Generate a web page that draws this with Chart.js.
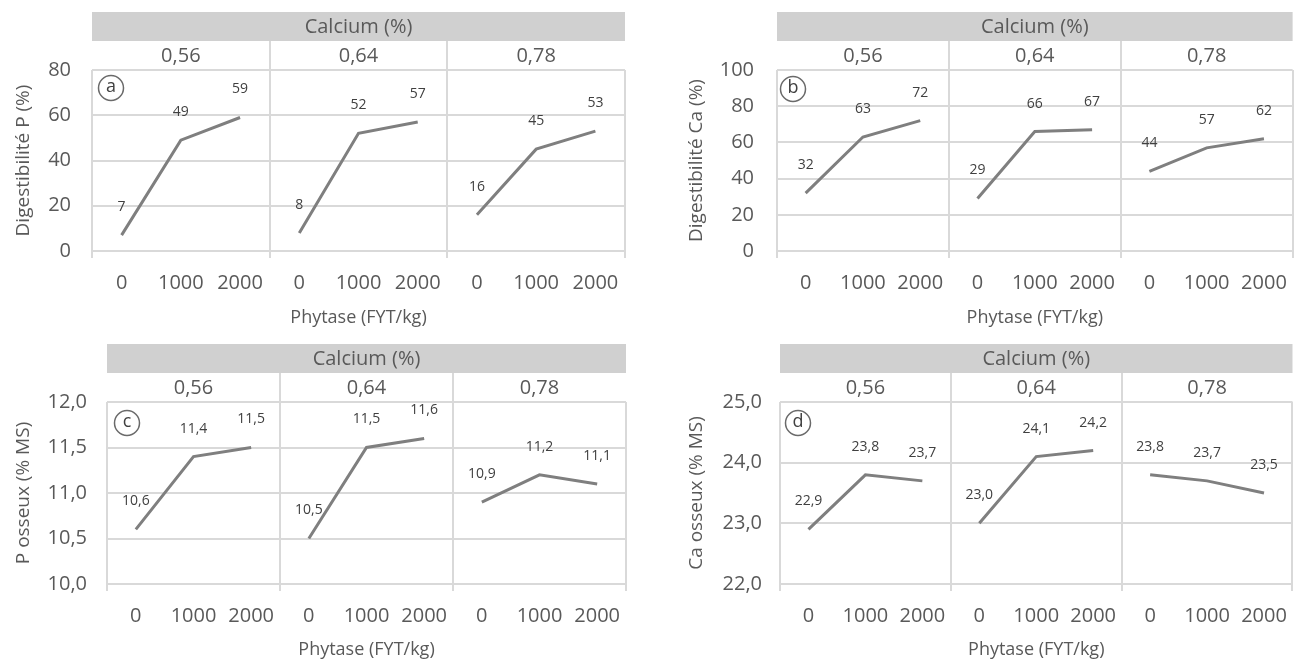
<!DOCTYPE html>
<html><head><meta charset="utf-8">
<script src="https://cdn.jsdelivr.net/npm/chart.js@4/dist/chart.umd.min.js"></script>
<style>
html,body{margin:0;padding:0;background:#fff;overflow:hidden;width:1296px;height:661px;position:relative;}
canvas{position:absolute;display:block;}
</style></head><body>
<canvas id="ca" width="660" height="330" style="left:0;top:0"></canvas>
<canvas id="cb" width="640" height="330" style="left:660px;top:0"></canvas>
<canvas id="cc" width="660" height="331" style="left:0;top:330px"></canvas>
<canvas id="cd" width="640" height="331" style="left:660px;top:330px"></canvas>
<script>
// ---- data ----
const phytase = ['0', '1000', '2000'];
const calcium = ['0,56', '0,64', '0,78'];
const headerTitle = 'Calcium (%)';
const xTitle = 'Phytase (FYT/kg)';
const digestP  = [[7, 49, 59], [8, 52, 57], [16, 45, 53]];
const digestCa = [[32, 63, 72], [29, 66, 67], [44, 57, 62]];
const pOsseux  = [[10.6, 11.4, 11.5], [10.5, 11.5, 11.6], [10.9, 11.2, 11.1]];
const caOsseux = [[22.9, 23.8, 23.7], [23.0, 24.1, 24.2], [23.8, 23.7, 23.5]];
const yRangeA = [0, 80, 20];
const yRangeB = [0, 100, 20];
const yRangeC = [10, 12, 0.5];
const yRangeD = [22, 25, 1];

const FONT = '"Open Sans", sans-serif';
const TXT = '#595959';
const GRID = '#d9d9d9';
const LINE = '#7f7f7f';

const fmt = (v, d) => v.toFixed(d).replace('.', ',');

const facetPlugin = {
  id: 'facet',
  afterDraw(chart) {
    const o = chart.options.plugins.facet;
    const {ctx, chartArea: {left, right, top}} = chart;
    const x = chart.scales.x;
    ctx.save();
    ctx.fillStyle = '#d0d0d0';
    ctx.fillRect(left, top - 58, right - left, 29);
    ctx.fillStyle = TXT;
    ctx.font = '20px ' + FONT;
    ctx.textAlign = 'center';
    ctx.textBaseline = 'middle';
    ctx.fillText(headerTitle, (left + right) / 2, top - 43);
    calcium.forEach((c, g) => {
      ctx.fillText(c, x.getPixelForValue(g * 3 + 1), top - 14);
    });
    ctx.strokeStyle = GRID;
    ctx.lineWidth = 2;
    for (let g = 1; g < calcium.length; g++) {
      const bx = Math.round((x.getPixelForValue(g * 3 - 1) + x.getPixelForValue(g * 3)) / 2);
      ctx.beginPath();
      ctx.moveTo(bx, top - 29);
      ctx.lineTo(bx, top);
      ctx.stroke();
    }
    // circled letter
    const cx = left + o.lx, cy = top + o.ly;
    ctx.strokeStyle = '#6a6a6a';
    ctx.lineWidth = 1.5;
    ctx.beginPath();
    ctx.arc(cx, cy, 12.5, 0, Math.PI * 2);
    ctx.stroke();
    ctx.fillStyle = '#404040';
    ctx.font = '18px ' + FONT;
    ctx.fillText(o.letter, cx, cy - 1);
    ctx.restore();
  },
  afterDatasetsDraw(chart) {
    const o = chart.options.plugins.facet;
    const ctx = chart.ctx;
    ctx.save();
    ctx.fillStyle = '#404040';
    ctx.font = '14px ' + FONT;
    ctx.textAlign = 'center';
    ctx.textBaseline = 'middle';
    chart.data.datasets.forEach((ds, di) => {
      const meta = chart.getDatasetMeta(di);
      ds.data.forEach((v, i) => {
        if (v === null) return;
        const p = meta.data[i];
        ctx.fillText(fmt(v, o.dec), p.x, p.y - 28);
      });
    });
    ctx.restore();
  }
};

function makePanel(id, values, range, yTitle, cfg) {
  const labels = calcium.flatMap(() => phytase);
  const datasets = values.map((grp, g) => {
    const arr = labels.map(() => null);
    grp.forEach((v, i) => { arr[g * 3 + i] = v; });
    return {
      data: arr,
      borderColor: LINE,
      borderWidth: 3,
      pointRadius: 0,
      pointHoverRadius: 0,
      spanGaps: false,
      tension: 0,
      borderCapStyle: 'butt'
    };
  });
  new Chart(document.getElementById(id), {
    type: 'line',
    data: {labels, datasets},
    plugins: [facetPlugin],
    options: {
      responsive: false,
      animation: false,
      events: [],
      layout: {padding: {left: 0, top: cfg.T, right: cfg.R, bottom: 0}},
      plugins: {
        legend: {display: false},
        tooltip: {enabled: false},
        facet: {letter: cfg.letter, dec: cfg.dec, lx: cfg.lx, ly: cfg.ly}
      },
      scales: {
        x: {
          type: 'category',
          offset: true,
          grid: {
            offset: true,
            color: c => (c.index === undefined || c.index % 3 === 0) ? GRID : 'rgba(0,0,0,0)',
            lineWidth: 2,
            tickLength: 7,
            drawTicks: true
          },
          border: {display: false},
          ticks: {
            color: TXT, font: {family: FONT, size: 20}, padding: cfg.xtp,
            maxRotation: 0, autoSkip: false
          },
          title: {display: true, text: xTitle, color: TXT, font: {family: FONT, size: 18}, padding: {top: 0, bottom: cfg.xtitlePad}},
          afterFit: s => { s.height = cfg.H; }
        },
        y: {
          min: range[0], max: range[1],
          grid: {color: GRID, lineWidth: 2, drawTicks: false},
          border: {display: false},
          ticks: {
            stepSize: range[2], color: TXT, font: {family: FONT, size: 20}, padding: cfg.ytp,
            callback: v => fmt(v, cfg.dec)
          },
          title: {display: true, text: yTitle, color: TXT, font: {family: FONT, size: 19}, padding: {top: cfg.ytitlePad, bottom: 0}},
          afterFit: s => { s.width = cfg.L; }
        }
      }
    }
  });
}

makePanel('ca', digestP, yRangeA, 'Digestibilité P (%)', {L: 92, T: 70, R: 35, H: 79, letter: 'a', dec: 0, lx: 19, ly: 18, ytp: 21, ytitlePad: 12, xtp: 13, xtitlePad: 1});
makePanel('cb', digestCa, yRangeB, 'Digestibilité Ca (%)', {L: 117, T: 70, R: 3, H: 79, letter: 'b', dec: 0, lx: 16, ly: 19, ytp: 23, ytitlePad: 25, xtp: 13, xtitlePad: 1});
makePanel('cc', pOsseux, yRangeC, 'P osseux (% MS)', {L: 107, T: 72, R: 34, H: 77, letter: 'c', dec: 1, lx: 20, ly: 21, ytp: 20, ytitlePad: 12, xtp: 13, xtitlePad: 0});
makePanel('cd', caOsseux, yRangeD, 'Ca osseux (% MS)', {L: 120, T: 72, R: 2, H: 77, letter: 'd', dec: 1, lx: 18, ly: 21, ytp: 18, ytitlePad: 25, xtp: 13, xtitlePad: 0});
</script>
</body></html>
